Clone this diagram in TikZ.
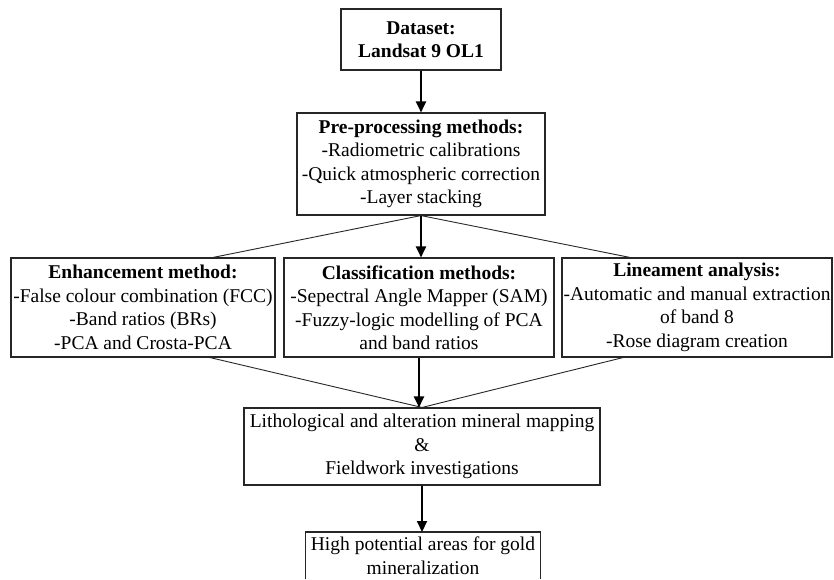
\documentclass[tikz,border=0pt]{standalone}
\usepackage{fontspec}
\setmainfont{Liberation Serif}
\usetikzlibrary{arrows.meta,calc}
\begin{document}
\begin{tikzpicture}[x=1pt,y=-1pt,
  txt/.style={inner sep=0pt,align=center,font=\fontsize{19.5}{23.5}\selectfont},
  box/.style={txt,draw=black!85,line width=1.1pt},
  frame/.style={draw=black!85,line width=1.1pt},
  thin/.style={draw=black!85,line width=0.9pt},
  arr/.style={draw=black,line width=2pt,-{Triangle[length=11pt,width=10pt]}}]
\useasboundingbox (0,0) rectangle (834,579);
\node[box,minimum width=160pt,minimum height=61pt] (ds) at (421,39.5)
  {\textbf{Dataset:}\\\textbf{Landsat 9 OL1}};
\node[box,minimum width=248pt,minimum height=102pt] (pre) at (421,164)
  {\textbf{Pre-processing methods:}\\-Radiometric calibrations\\-Quick atmospheric correction\\-Layer stacking};
\node[box,minimum width=264pt,minimum height=99pt] (enh) at (143,307.5)
  {\textbf{Enhancement method:}\\-False colour combination (FCC)\\-Band ratios (BRs)\\-PCA and Crosta-PCA};
\node[box,minimum width=270pt,minimum height=99pt] (cls) at (419,307.5)
  {\textbf{Classification methods:}\\-Sepectral Angle Mapper (SAM)\\-Fuzzy-logic modelling of PCA\\and band ratios};
\node[box,minimum width=270pt,minimum height=99pt] (lin) at (697,307.5)
  {\textbf{Lineament analysis:}\\-Automatic and manual extraction\\of band 8\\-Rose diagram creation};
\node[box,minimum width=356pt,minimum height=77pt] (lith) at (422,446.5)
  {Lithological and alteration mineral mapping\\\&\\Fieldwork investigations};
\node[txt,minimum width=234pt,minimum height=47pt,anchor=north] (high) at (423,532)
  {High potential areas for gold\\mineralization};
\draw[frame] (high.south west) -- (high.north west) -- (high.north east) -- (high.south east);
\draw[arr] (ds.south) -- (ds.south |- pre.north);
\draw[thin] (pre.south) -- ([xshift=70pt]enh.north);
\draw[thin] (pre.south) -- ([xshift=-67pt]lin.north);
\draw[arr] (pre.south) -- (pre.south |- cls.north);
\draw[thin] ([xshift=67pt]enh.south) -- (lith.north);
\draw[thin] ([xshift=-74pt]lin.south) -- (lith.north);
\draw[arr] (cls.south) -- (cls.south |- lith.north);
\draw[arr] (lith.south) -- (lith.south |- high.north);
\end{tikzpicture}
\end{document}
